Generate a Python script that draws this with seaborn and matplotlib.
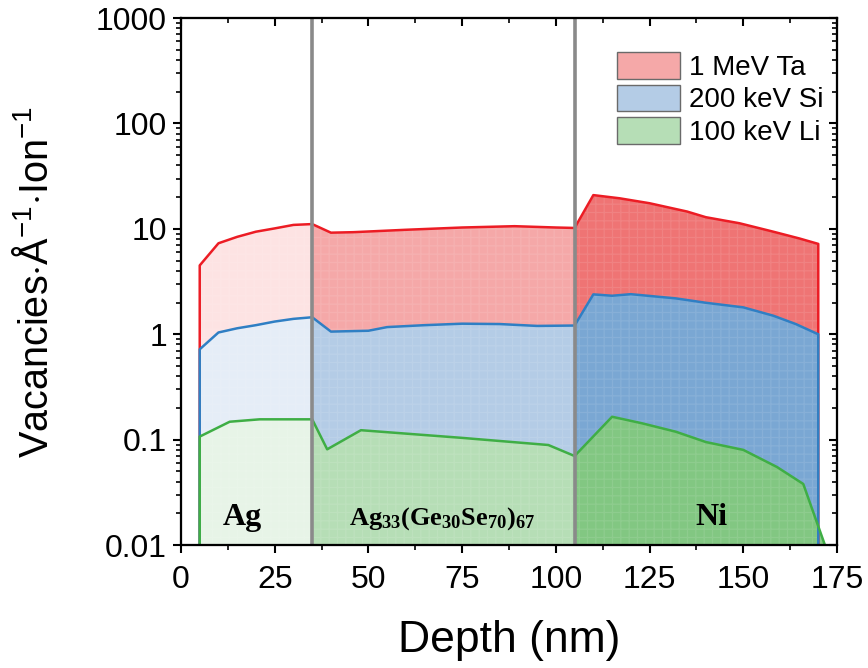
import matplotlib
matplotlib.use("Agg")
import matplotlib.pyplot as plt
import seaborn as sns
from matplotlib.patches import Patch
from matplotlib.ticker import FixedLocator, FixedFormatter, MultipleLocator, LogLocator, NullFormatter

# Vacancy profiles (vacancies per Angstrom per ion) versus depth
depth_ta = [5, 10, 15, 20, 25, 30, 35, 40, 46, 60, 75, 89, 100, 105,
            110, 117, 125, 135, 140, 149, 158, 165, 170]
vac_ta = [4.5, 7.3, 8.4, 9.4, 10.1, 10.9, 11.1, 9.2, 9.3, 9.8, 10.3, 10.6, 10.3, 10.2,
          20.9, 19.5, 17.5, 14.6, 12.9, 11.3, 9.4, 8.1, 7.2]

depth_si = [5, 10, 15, 20, 25, 30, 35, 40, 50, 55, 65, 75, 85, 95, 105,
            110, 115, 120, 132, 140, 150, 158, 164, 170]
vac_si = [0.72, 1.04, 1.14, 1.22, 1.32, 1.40, 1.45, 1.06, 1.08, 1.17, 1.22, 1.26, 1.25, 1.20, 1.21,
          2.39, 2.32, 2.40, 2.19, 1.99, 1.80, 1.50, 1.25, 1.00]

depth_li = [5, 13, 21, 35, 39, 48, 75, 98, 105,
            115, 123, 132, 140, 150, 159, 166, 172]
vac_li = [0.107, 0.148, 0.156, 0.156, 0.081, 0.123, 0.104, 0.089, 0.070,
          0.165, 0.143, 0.119, 0.095, 0.080, 0.055, 0.038, 0.0095]

series_labels = ["1 MeV Ta", "200 keV Si", "100 keV Li"]
line_colors = ["#ec1c24", "#2f7fc4", "#3fae45"]
# fill shades for the three layers: Ag, Ag-Ge-Se, Ni
fill_colors = [
    ["#fde3e3", "#f5a8a8", "#ef7474"],
    ["#e5edf7", "#b4cce6", "#7aa7d3"],
    ["#e7f4e7", "#b6deb6", "#82c782"],
]
layer_bounds = [0, 35, 105, 175]
layer_names = ["Ag", r"$\mathbf{Ag_{33}(Ge_{30}Se_{70})_{67}}$", "Ni"]
layer_label_x = [16.3, 69.7, 141.4]

x_ticks = [0, 25, 50, 75, 100, 125, 150, 175]
y_ticks = [0.01, 0.1, 1, 10, 100, 1000]
y_tick_labels = ["0.01", "0.1", "1", "10", "100", "1000"]

sns.set_theme(style="ticks")
plt.rcParams["font.family"] = ["Liberation Sans", "DejaVu Sans"]
plt.rcParams["mathtext.fontset"] = "custom"
plt.rcParams["mathtext.rm"] = "Liberation Sans"
plt.rcParams["mathtext.bf"] = "Liberation Serif:bold"
plt.rcParams["hatch.linewidth"] = 0.9
for key in ("text.color", "axes.labelcolor", "xtick.color", "ytick.color",
            "xtick.labelcolor", "ytick.labelcolor", "axes.edgecolor"):
    plt.rcParams[key] = "black"

FLOOR = 1e-3

fig = plt.figure(figsize=(8.68, 6.68), dpi=100)
ax = fig.add_axes([0.2085, 0.184, 0.7558, 0.789])
ax.set_yscale("log")

all_series = [(depth_ta, vac_ta), (depth_si, vac_si), (depth_li, vac_li)]

# filled areas, stacked opaque from the top series downwards
for si, (xs, ys) in enumerate(all_series):
    for li in range(3):
        lo, hi = layer_bounds[li], layer_bounds[li + 1]
        sub = [(x, y) for x, y in zip(xs, ys) if lo <= x <= hi]
        if len(sub) < 2:
            continue
        sx = [p[0] for p in sub]
        sy = [p[1] for p in sub]
        ax.fill_between(sx, sy, FLOOR, facecolor=fill_colors[si][li], linewidth=0, zorder=1 + si)
        ax.fill_between(sx, sy, FLOOR, facecolor="none", edgecolor=(1, 1, 1, 0.1),
                        hatch="++", linewidth=0, zorder=1 + si)

# outline of each profile, dropping vertically to the floor at both ends
for si, (xs, ys) in enumerate(all_series):
    px = [xs[0]] + list(xs)
    py = [FLOOR] + list(ys)
    if ys[-1] > 0.01:
        px = px + [xs[-1]]
        py = py + [FLOOR]
    sns.lineplot(x=px, y=py, sort=False, estimator=None, color=line_colors[si],
                 linewidth=1.8, ax=ax, zorder=5 + si)

for xb in layer_bounds[1:3]:
    ax.axvline(xb, color="#8a8a8a", linewidth=2.6, zorder=9)

for name, lx in zip(layer_names, layer_label_x):
    fs = 19 if name.startswith("$") else 23
    ax.text(lx, 0.0155, name, ha="center", va="baseline", fontsize=fs,
            fontweight="bold", family=["Liberation Serif", "DejaVu Serif"], zorder=10)

ax.set_xlim(0, 175)
ax.set_ylim(0.01, 1000)
ax.xaxis.set_major_locator(FixedLocator(x_ticks))
ax.xaxis.set_minor_locator(MultipleLocator(12.5))
ax.yaxis.set_major_locator(FixedLocator(y_ticks))
ax.yaxis.set_major_formatter(FixedFormatter(y_tick_labels))
ax.yaxis.set_minor_locator(LogLocator(base=10, subs=range(2, 10), numticks=20))
ax.yaxis.set_minor_formatter(NullFormatter())
ax.tick_params(axis="both", which="major", direction="out", length=6, width=1.5,
               labelsize=23)
ax.tick_params(axis="x", which="major", pad=8)
ax.tick_params(axis="y", which="major", pad=4)
ax.tick_params(axis="both", which="minor", direction="out", length=3.5, width=1.2)

for sp in ax.spines.values():
    sp.set_linewidth(1.5)
    sp.set_zorder(12)

# mirrored inward ticks on the top and right edges
axr = ax.twinx()
axr.set_yscale("log")
axr.set_ylim(ax.get_ylim())
axr.yaxis.set_major_locator(FixedLocator(y_ticks))
axr.yaxis.set_minor_locator(LogLocator(base=10, subs=range(2, 10), numticks=20))
axr.tick_params(axis="y", which="major", direction="in", length=6, width=1.5, labelright=False)
axr.tick_params(axis="y", which="minor", direction="in", length=3.5, width=1.2)
axt = ax.twiny()
axt.set_xlim(ax.get_xlim())
axt.xaxis.set_major_locator(FixedLocator(x_ticks))
axt.xaxis.set_minor_locator(MultipleLocator(12.5))
axt.tick_params(axis="x", which="major", direction="in", length=6, width=1.5, labeltop=False)
axt.tick_params(axis="x", which="minor", direction="in", length=3.5, width=1.2)
for a in (axr, axt):
    for sp in a.spines.values():
        sp.set_linewidth(1.5)

ax.set_xlabel("Depth (nm)", fontsize=32, labelpad=18)
ax.set_ylabel(r"Vacancies$\cdot$Å$^{-1}$$\cdot$Ion$^{-1}$", fontsize=28.5)
ax.yaxis.set_label_coords(-0.19, 0.5)

handles = [Patch(facecolor=fill_colors[i][1], edgecolor="#6a6a6a", linewidth=1.0)
           for i in range(3)]
leg = ax.legend(handles, series_labels, loc="upper left", bbox_to_anchor=(0.665, 0.935),
                frameon=False, fontsize=20, handlelength=2.27, handleheight=1.08,
                handletextpad=0.3, labelspacing=0.14, borderaxespad=0, borderpad=0)
leg.set_zorder(20)

fig.savefig("out.png", dpi=100)
